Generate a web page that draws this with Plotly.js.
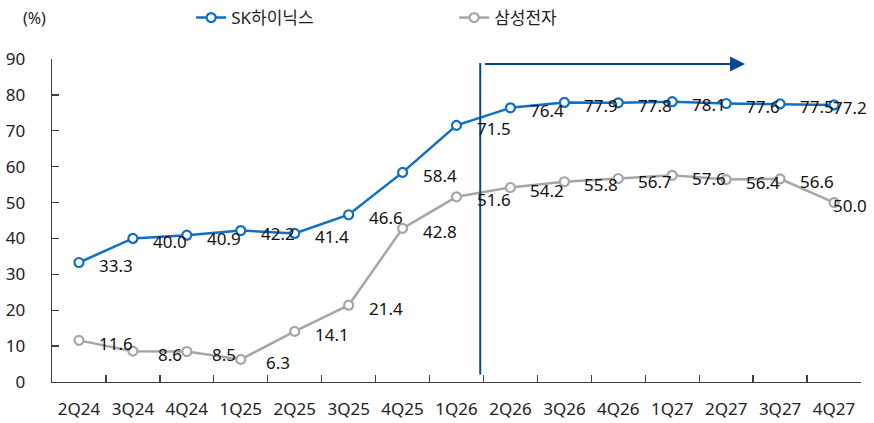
<!DOCTYPE html>
<html>
<head>
<meta charset="utf-8">
<script src="https://cdn.plot.ly/plotly-3.0.1.min.js"></script>
<style>html,body{margin:0;padding:0;background:#fff;}#chart{width:874px;height:423px;}</style>
</head>
<body>
<div id="chart"></div>
<script>
var quarters = ["2Q24","3Q24","4Q24","1Q25","2Q25","3Q25","4Q25","1Q26","2Q26","3Q26","4Q26","1Q27","2Q27","3Q27","4Q27"];
var skName = "SK하이닉스";
var samsungName = "삼성전자";
var skValues = [33.3,40.0,40.9,42.2,41.4,46.6,58.4,71.5,76.4,77.9,77.8,78.1,77.6,77.5,77.2];
var samsungValues = [11.6,8.6,8.5,6.3,14.1,21.4,42.8,51.6,54.2,55.8,56.7,57.6,56.4,56.6,50.0];
var yTicks = [0,10,20,30,40,50,60,70,80,90];
var unitLabel = "(%)";

var FONT = "'Noto Sans', 'Noto Sans CJK KR', sans-serif";
var skColor = "#0e6fc4";
var ssColor = "#a6a6a6";
var navy = "#0a4590";

function lineTrace(name, vals, color) {
  return {
    type: "scatter", mode: "lines+markers", name: name,
    x: quarters, y: vals,
    line: {color: color, width: 2.5},
    marker: {symbol: "circle", size: 9, color: "#ffffff", line: {color: color, width: 2.2}},
    cliponaxis: false, hoverinfo: "skip"
  };
}

var traces = [lineTrace(skName, skValues, skColor), lineTrace(samsungName, samsungValues, ssColor)];

var annotations = [];
function addLabels(vals) {
  vals.forEach(function (v, i) {
    var last = (i === vals.length - 1);
    annotations.push({
      x: quarters[i], y: v, xref: "x", yref: "y",
      text: v.toFixed(1), showarrow: false,
      xshift: last ? 16 : 37, yshift: -3,
      font: {family: FONT, size: 17, color: "#111111"}
    });
  });
}
addLabels(skValues);
addLabels(samsungValues);

annotations.push({
  xref: "paper", yref: "paper", x: -0.022, y: 1.127, xanchor: "center", yanchor: "middle",
  text: unitLabel, showarrow: false, font: {family: FONT, size: 16, color: "#222222"}
});
// forecast arrow
annotations.push({
  xref: "x", yref: "y", axref: "x", ayref: "y",
  x: 12.35, y: 88.6, ax: 7.5, ay: 88.6,
  text: "", showarrow: true, arrowhead: 2, arrowsize: 1.5, arrowwidth: 2, arrowcolor: navy,
  standoff: 0, startstandoff: 0
});

var layout = {
  width: 874, height: 423,
  margin: {l: 52, r: 13, t: 59, b: 41},
  paper_bgcolor: "#ffffff", plot_bgcolor: "#ffffff",
  font: {family: FONT, size: 16, color: "#222222"},
  showlegend: true,
  legend: {
    orientation: "h", x: 0.172, xanchor: "left", yref: "container", y: 0.9574, yanchor: "middle",
    font: {family: FONT, size: 17, color: "#222222"},
    entrywidth: 218, entrywidthmode: "pixels", bgcolor: "rgba(0,0,0,0)"
  },
  xaxis: {
    type: "category", categoryorder: "array", categoryarray: quarters,
    range: [-0.5, 14.5], tickson: "boundaries",
    ticks: "inside", ticklen: 7, tickcolor: "#404040", tickwidth: 1.3,
    showline: true, linecolor: "#404040", linewidth: 1.3,
    showgrid: false, zeroline: false, fixedrange: true,
    ticklabelstandoff: 11,
    tickfont: {family: FONT, size: 17, color: "#222222"}
  },
  yaxis: {
    range: [0, 90], tickmode: "array", tickvals: yTicks, ticktext: yTicks.map(String),
    ticks: "inside", ticklen: 7, tickcolor: "#404040", tickwidth: 1.3,
    showline: true, linecolor: "#404040", linewidth: 1.3,
    showgrid: false, zeroline: false, fixedrange: true,
    ticklabelstandoff: 22,
    tickfont: {family: FONT, size: 17, color: "#222222"}
  },
  shapes: [{
    type: "line", xref: "x", yref: "y", x0: 7.44, x1: 7.44, y0: 2.1, y1: 88.9,
    line: {color: navy, width: 2}
  }],
  annotations: annotations
};

Plotly.newPlot("chart", traces, layout, {displayModeBar: false, staticPlot: true});
</script>
</body>
</html>
